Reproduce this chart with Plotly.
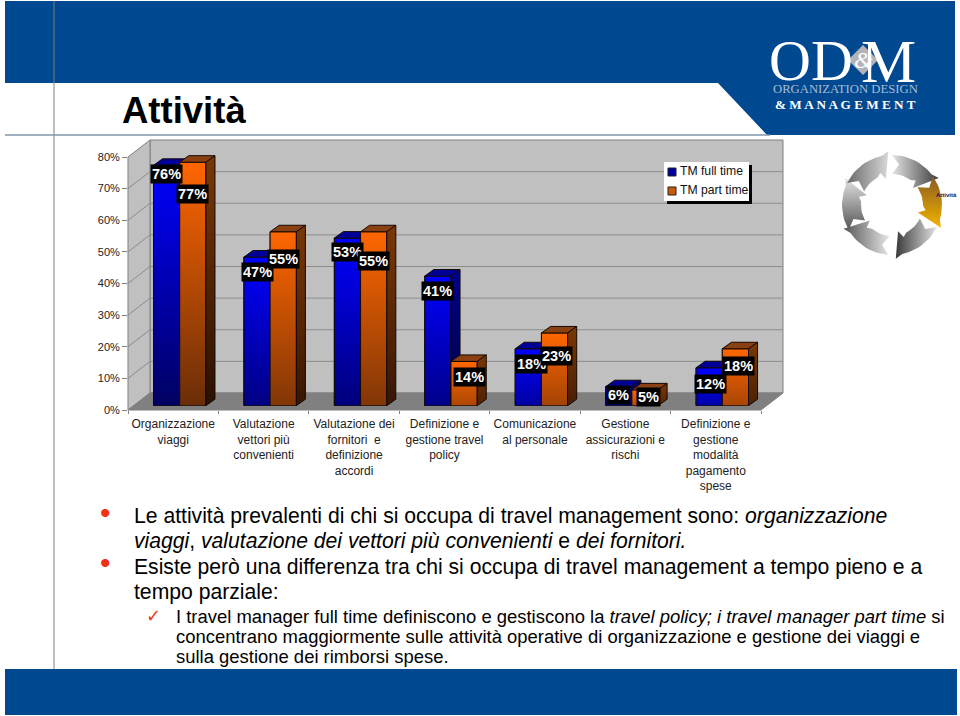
import math
import plotly.graph_objects as go

CATEGORIES = ["Organizzazione<br>viaggi", "Valutazione<br>vettori più<br>convenienti",
              "Valutazione dei<br>fornitori  e<br>definizione<br>accordi",
              "Definizione e<br>gestione travel<br>policy", "Comunicazione<br>al personale",
              "Gestione<br>assicurazioni e<br>rischi",
              "Definizione e<br>gestione<br>modalità<br>pagamento<br>spese"]
FULL_TIME = [76, 47, 53, 41, 18, 6, 12]
PART_TIME = [77, 55, 55, 14, 23, 5, 18]
SERIES_NAMES = ["TM full time", "TM part time"]
Y_TICKS = [0, 10, 20, 30, 40, 50, 60, 70, 80]
Y_LABELS = ["0%", "10%", "20%", "30%", "40%", "50%", "60%", "70%", "80%"]

# label nudges in px (x right, y down from top of bar)
FT_NUDGE = [(0, 8.5), (0, 15), (0, 14), (0, 15), (3.5, 15), (0, 8), (1.5, 16)]
PT_NUDGE = [(0, 31.6), (0, 27), (0, 29), (5, 15.5), (2, 23), (4, 7), (3.5, 17)]

W, H = 960, 716
PX = lambda x: x / W
PY = lambda y: 1 - y / H
BLUE = "#004990"
BAR_W = 0.29
DX, DY = 0.1, 2.06
FONT = "Liberation Sans"


def hex2(c):
    return [int(c[i:i + 2], 16) for i in (1, 3, 5)]


def lerp(a, b, t):
    a, b = hex2(a), hex2(b)
    return "rgb(%d,%d,%d)" % tuple(round(p + (q - p) * t) for p, q in zip(a, b))


fig = go.Figure()
shapes = []


def pxpath(points):
    return "M" + " L".join(f"{PX(x):.5f},{PY(y):.5f}" for x, y in points) + " Z"


def poly(points, fill=None, line=None, lw=1, layer="below"):
    shapes.append(dict(type="path", xref="paper", yref="paper", path=pxpath(points),
                       fillcolor=fill or "rgba(0,0,0,0)", line=dict(color=line or "rgba(0,0,0,0)", width=lw), layer=layer))


def seg(x0, y0, x1, y1, color, lw=1, layer="below"):
    shapes.append(dict(type="line", xref="paper", yref="paper", x0=PX(x0), x1=PX(x1), y0=PY(y0), y1=PY(y1),
                       line=dict(color=color, width=lw), layer=layer))


# slide furniture
poly([(5, 1), (955, 1), (955, 135), (767, 135), (718, 83), (5, 83)], BLUE)
poly([(5, 669), (957, 669), (957, 715), (5, 715)], BLUE)
seg(54, 1, 54, 669, "#7f7f7f", 1)
seg(5, 135, 770, 135, "#7f97ad", 1.5)

# 3D walls
FX0, FX1, FY0, FY1 = 128, 761, 410, 157
BX, BY = 22, -17
poly([(FX0 + BX, FY1 + BY), (FX1 + BX, FY1 + BY), (FX1 + BX, FY0 + BY), (FX0 + BX, FY0 + BY)], "#C0C0C0", "#808080", 1)
poly([(FX0, FY1), (FX0 + BX, FY1 + BY), (FX0 + BX, FY0 + BY), (FX0, FY0)], "#C0C0C0", "#808080", 1)
poly([(FX0, FY0), (FX0 + BX, FY0 + BY), (FX1 + BX, FY0 + BY), (FX1, FY0)], "#808080", "#808080", 1)
for t in Y_TICKS[1:-1]:
    yy = FY0 + (FY1 - FY0) * t / 80
    seg(FX0, yy, FX0 + BX, yy + BY, "#8c8c8c", 1)
    seg(FX0 + BX, yy + BY, FX1 + BX, yy + BY, "#8c8c8c", 1)

# visible axes, x / y
fig.add_trace(go.Scatter(x=CATEGORIES, y=[0] * 7, mode="markers", marker=dict(opacity=0), showlegend=False,
                         hoverinfo="skip", xaxis="x", yaxis="y"))

# real bars
fig.add_trace(go.Bar(x=list(range(7)), y=FULL_TIME, name=SERIES_NAMES[0], xaxis="x2", yaxis="y2", showlegend=False,
                     marker=dict(color="#0000B0", line=dict(color="#101010", width=1))))
fig.add_trace(go.Bar(x=list(range(7)), y=PART_TIME, name=SERIES_NAMES[1], xaxis="x2", yaxis="y2", showlegend=False,
                     marker=dict(color="#C85A0A", line=dict(color="#101010", width=1))))


def face(xs, ys, colors=None, color=None):
    kw = dict(x=xs, y=ys, mode="lines", fill="toself", line=dict(color="#140a05", width=1),
              xaxis="x2", yaxis="y2", showlegend=False, hoverinfo="skip")
    if colors:
        kw["fillgradient"] = dict(type="vertical", colorscale=[[0, colors[0]], [1, colors[1]]],
                                  start=0, stop=max(ys))
    else:
        kw["fillcolor"] = color
    fig.add_trace(go.Scatter(**kw))


def bar3d(i, v, left, top, bottom, topface, side_top, side_bot, strength):
    r = left + BAR_W
    bottom_c = lerp(top, bottom, strength)
    side_c = lerp(side_top, side_bot, strength)
    face([left, r, r, left, left], [0, 0, v, v, 0], colors=(bottom_c, top))
    face([left, left + DX, r + DX, r, left], [v, v + DY, v + DY, v, v], color=topface)
    face([r, r + DX, r + DX, r, r], [0, DY, v + DY, v, 0], colors=(side_c, side_top))


for i, (a, b) in enumerate(zip(FULL_TIME, PART_TIME)):
    bar3d(i, a, i - BAR_W, "#0000FF", "#000060", "#000099", "#000088", "#000030", 0.45 + 0.55 * a / 77)
    bar3d(i, b, i, "#FF6600", "#6a2d08", "#8a4010", "#7a3806", "#2a1002", 0.45 + 0.55 * b / 77)

# icon
CX, CY = 892, 205
HEADS = [-30, 25, 86, 154, 210, 266]


def arrow(a):
    pts = []
    for d in range(-60, -7, 4):
        t = math.radians(a + d)
        pts.append((CX + 50 * math.cos(t), CY + 50 * math.sin(t)))
    t = math.radians(a)
    pts.append((CX + 54 * math.cos(t), CY + 54 * math.sin(t)))
    t = math.radians(a - 9)
    pts.append((CX + 27 * math.cos(t), CY + 27 * math.sin(t)))
    t = math.radians(a - 16)
    pts.append((CX + 34 * math.cos(t), CY + 34 * math.sin(t)))
    for d in range(-24, -61, -4):
        t = math.radians(a + d)
        pts.append((CX + 31 * math.cos(t), CY + 31 * math.sin(t)))
    t = math.radians(a - 50)
    pts.append((CX + 41 * math.cos(t), CY + 41 * math.sin(t)))
    pts.append(pts[0])
    return pts


GRADS = [("horizontal", "#e4e4e4", "#3c3c3c"), ("vertical", "#f4b400", "#8a5a20"),
         ("horizontal", "#3a3a3a", "#e4e4e4"), ("horizontal", "#555555", "#e8e8e8"),
         ("vertical", "#555555", "#e4e4e4"), ("horizontal", "#6a6a6a", "#d8d8d8")]
for a, (ty, c0, c1) in zip(HEADS, GRADS):
    pts = arrow(a)
    fig.add_trace(go.Scatter(x=[p[0] for p in pts], y=[p[1] for p in pts], mode="lines", fill="toself",
                             line=dict(color="rgba(0,0,0,0)", width=0), xaxis="x3", yaxis="y3",
                             fillgradient=dict(type=ty, colorscale=[[0, c0], [1, c1]]),
                             showlegend=False, hoverinfo="skip"))

# logo diamond
poly([(863, 45), (878, 60), (863, 75), (848, 60)], "#b4b4b8", layer="above")

# legend
poly([(667, 165), (752, 165), (752, 204), (667, 204)], "#000000", layer="above")
poly([(664, 162), (749, 162), (749, 201), (664, 201)], "#FFFFFF", layer="above")
poly([(668, 168), (676, 168), (676, 176), (668, 176)], "#0000A0", "#222222", 1, layer="above")
poly([(668, 187), (676, 187), (676, 195), (668, 195)], "#C85A0A", "#222222", 1, layer="above")

ann = []


def text(x, y, s, size, color="#000000", font=FONT, anchor="left", **kw):
    ann.append(dict(x=PX(x), y=PY(y), xref="paper", yref="paper", text=s, showarrow=False, xanchor=anchor,
                    yanchor="middle", borderpad=0, font=dict(size=size, color=color, family=font), **kw))


# data labels
for series, nudges, off in ((FULL_TIME, FT_NUDGE, -BAR_W / 2), (PART_TIME, PT_NUDGE, BAR_W / 2)):
    for i, (v, (nx, ny)) in enumerate(zip(series, nudges)):
        ann.append(dict(x=i + off, y=v, xref="x2", yref="y2", text=f"<b>{v}%</b>", showarrow=False,
                        xshift=nx, yshift=-ny, bgcolor="#000000", borderpad=1,
                        font=dict(size=14.5, color="#FFFFFF", family=FONT)))

text(679, 171, SERIES_NAMES[0], 12.2, "#111111")
text(679, 190, SERIES_NAMES[1], 12.2, "#111111")

text(121, 110, "<b>Attività</b>", 36.5)
text(811, 61, "OD", 58, "#FFFFFF", "Liberation Serif", "center")
text(888, 61, "M", 62, "#FFFFFF", "Liberation Serif", "center")
text(863, 60, "<i>&amp;</i>", 24, "#FFFFFF", "Liberation Serif", "center")
text(845, 89, "ORGANIZATION DESIGN", 12.7, "#a9bcd6", "Liberation Serif", "center")
text(845, 105, "<b>&amp; M A N A G E M E N T</b>", 13.2, "#FFFFFF", "Liberation Serif", "center")
text(935, 195, "<b>Attività</b>", 6, "#101060", FONT)

BODY = 21.15
SUB = 18.45
text(99, 512, "•", 30, "#f03010", FONT)
text(99, 562, "•", 30, "#f03010", FONT)
text(133, 516, "Le attività prevalenti di chi si occupa di travel management sono: <i>organizzazione</i>", BODY)
text(133, 541, "<i>viaggi</i>, <i>valutazione dei vettori più convenienti</i> e <i>dei fornitori.</i>", BODY)
text(133, 567, "Esiste però una differenza tra chi si occupa di travel management a tempo pieno e a", BODY)
text(133, 592, "tempo parziale:", BODY)
text(145, 615, "✓", 18, "#e04010", "DejaVu Sans")
text(175, 616, "I travel manager full time definiscono e gestiscono la <i>travel policy; i travel manager part time</i> si", SUB)
text(175, 636, "concentrano maggiormente sulle attività operative di organizzazione e gestione dei viaggi e", SUB)
text(175, 656, "sulla gestione dei rimborsi spese.", SUB)

fig.update_layout(
    width=W, height=H, margin=dict(l=0, r=0, t=0, b=0, autoexpand=False), paper_bgcolor="#FFFFFF",
    plot_bgcolor="rgba(0,0,0,0)", showlegend=False,
    barmode="group", bargap=0.42, bargroupgap=0, shapes=shapes, annotations=ann,
    font=dict(family=FONT, color="#222222"),
    xaxis=dict(domain=[PX(FX0), PX(FX1)], type="category", categoryorder="array", categoryarray=CATEGORIES,
               range=[-0.5, 6.5], tickson="boundaries", ticks="outside", ticklen=3, tickcolor="#808080",
               showline=False, showgrid=False, zeroline=False, tickangle=0, tickfont=dict(size=12, color="#222222"),
               anchor="y", ticklabelstandoff=5),
    yaxis=dict(domain=[PY(FY0), PY(FY1)], range=[0, 80], tickvals=Y_TICKS, ticktext=Y_LABELS, ticks="outside",
               ticklen=5, tickcolor="#808080", showgrid=False, zeroline=False, showline=False,
               tickfont=dict(size=11, color="#222222"), anchor="x"),
    xaxis2=dict(domain=[PX(134.5), PX(767.5)], range=[-0.5, 6.5], visible=False, anchor="y2"),
    yaxis2=dict(domain=[PY(405.7), PY(152.7)], range=[0, 80], visible=False, anchor="x2"),
    xaxis3=dict(domain=[0, 1], range=[0, W], visible=False, anchor="y3"),
    yaxis3=dict(domain=[0, 1], range=[H, 0], visible=False, anchor="x3"),
)

fig.write_html("out.html", post_script="document.body.style.margin='0';", config={"displayModeBar": False})
